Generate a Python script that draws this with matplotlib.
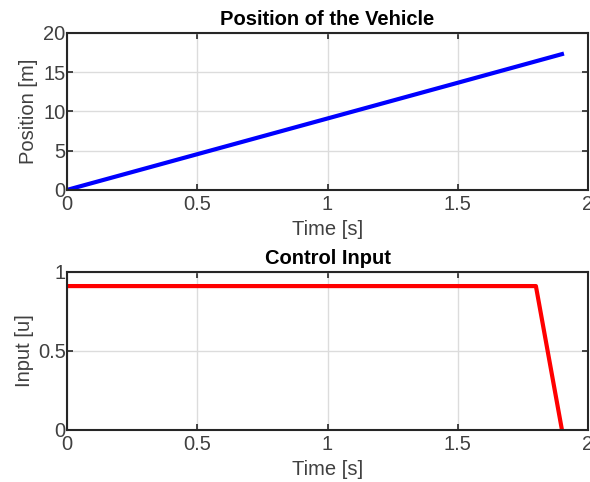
import matplotlib
matplotlib.use("Agg")
import matplotlib.pyplot as plt

# position trace
t_pos = [0.0, 0.5, 1.0, 1.5, 1.9]
position = [0.0, 4.55, 9.1, 13.65, 17.3]

# control input trace
t_u = [0.0, 1.8, 1.9]
u = [0.91, 0.91, 0.0]

xticks = [0, 0.5, 1, 1.5, 2]
xtick_labels = ["0", "0.5", "1", "1.5", "2"]
pos_ticks = [0, 5, 10, 15, 20]
u_ticks = [0, 0.5, 1]
u_tick_labels = ["0", "0.5", "1"]

plt.rcParams["font.family"] = ["Liberation Sans", "DejaVu Sans"]

fig = plt.figure(figsize=(5.9, 4.82), dpi=100)
ax1 = fig.add_axes([0.1136, 0.606, 0.883, 0.3257])
ax2 = fig.add_axes([0.1136, 0.108, 0.883, 0.328])

axis_col = "#262626"
label_col = "#404040"
fs = 14.5


def style(ax):
    ax.grid(True, color="#dcdcdc", linewidth=1.0)
    ax.set_axisbelow(True)
    for s in ax.spines.values():
        s.set_color(axis_col)
        s.set_linewidth(1.5)
    ax.tick_params(direction="in", top=True, right=True, length=4, width=1.2,
                   colors=axis_col, labelsize=fs, labelcolor=label_col)
    ax.tick_params(axis="x", pad=4)
    ax.tick_params(axis="y", pad=1)


ax1.plot(t_pos, position, color="#0000ff", linewidth=3)
ax1.set_xlim(0, 2)
ax1.set_ylim(0, 20)
ax1.set_xticks(xticks, xtick_labels)
ax1.set_yticks(pos_ticks)
ax1.set_xlabel("Time [s]", fontsize=fs, color=label_col, labelpad=4)
ax1.set_ylabel("Position [m]", fontsize=fs, color=label_col, labelpad=4)
ax1.set_title("Position of the Vehicle", fontsize=fs, fontweight="bold", pad=6)
style(ax1)

ax2.plot(t_u, u, color="#ff0000", linewidth=3)
ax2.set_xlim(0, 2)
ax2.set_ylim(0, 1)
ax2.set_xticks(xticks, xtick_labels)
ax2.set_yticks(u_ticks, u_tick_labels)
ax2.set_xlabel("Time [s]", fontsize=fs, color=label_col, labelpad=4)
ax2.set_ylabel("Input [u]", fontsize=fs, color=label_col, labelpad=3)
ax2.set_title("Control Input", fontsize=fs, fontweight="bold", pad=6)
style(ax2)

fig.savefig("out.png", dpi=100)
